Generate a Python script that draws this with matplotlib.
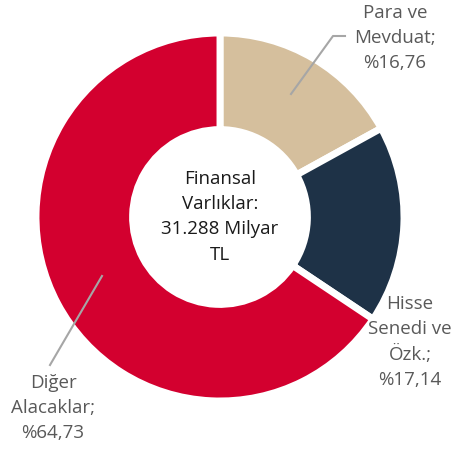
import matplotlib.pyplot as plt

plt.rcParams['font.family'] = ['Open Sans', 'DejaVu Sans']

# dilimler (saat yönünde, tepeden)
labels = ['Para ve\nMevduat;\n%16,76', 'Hisse\nSenedi ve\nÖzk.;\n%17,14', 'Diğer\nAlacaklar;\n%64,73']
values = [16.76, 17.14, 64.73]
colors = ['#D5BF9D', '#1E3247', '#D3002F']
center_text = 'Finansal\nVarlıklar:\n31.288 Milyar\nTL'

W, H = 451, 450
cx, cy, R = 220, 217, 184


def px(x, y):
    # piksel -> veri koordinatı
    return (x - cx) / R, (cy - y) / R


fig = plt.figure(figsize=(W / 100, H / 100), dpi=100)
ax = fig.add_axes([0, 0, 1, 1])
ax.pie(values, colors=colors, startangle=90, counterclock=False, radius=1,
       wedgeprops=dict(width=0.525, edgecolor='white', linewidth=5))
ax.set_xlim(-cx / R, (W - cx) / R)
ax.set_ylim(-(H - cy) / R, cy / R)
ax.set_aspect('equal')
ax.axis('off')

ax.text(0, 0, center_text, ha='center', va='center', fontsize=13.5,
        color='#1a1a1a', linespacing=1.5)

label_pos = [px(395, 38), px(410, 342), px(53, 408)]
for lab, (x, y) in zip(labels, label_pos):
    ax.text(x, y, lab, ha='center', va='center', fontsize=13.5,
            color='#595959', linespacing=1.5)

# kılavuz çizgileri
p1 = [px(291, 94), px(333, 36), px(345, 36)]
ax.plot([p[0] for p in p1], [p[1] for p in p1], color='#A6A6A6', lw=1.5)
p2 = [px(102, 276), px(50, 365)]
ax.plot([p[0] for p in p2], [p[1] for p in p2], color='#A6A6A6', lw=1.5)

fig.savefig('out.png', dpi=100)
